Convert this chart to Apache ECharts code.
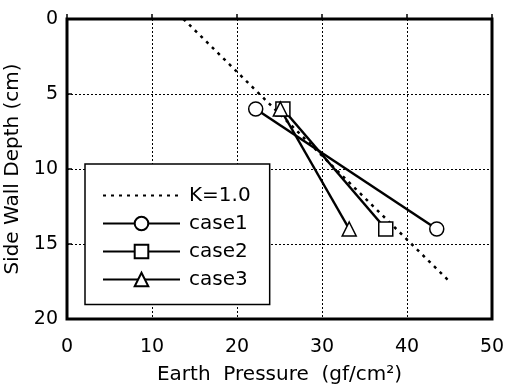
<!DOCTYPE html>
<html>
<head>
<meta charset="utf-8">
<script src="https://cdn.jsdelivr.net/npm/echarts@6/dist/echarts.min.js"></script>
<style>
  html, body { margin: 0; padding: 0; background: #fff; }
  #chart { width: 508px; height: 387px; }
</style>
</head>
<body>
<div id="chart"></div>
<script>
// reference line K=1.0 (pressure, depth)
const kLine = [[13.7, 0], [45, 17.5]];
// measured points, [pressure, depth]
const case1 = [[22.2, 6], [43.5, 14]];
const case2 = [[25.4, 6], [37.5, 14]];
const case3 = [[25.1, 6], [33.2, 14]];
const xTicks = [0, 10, 20, 30, 40, 50];
const yTicks = [0, 5, 10, 15, 20];

const font = "DejaVu Sans, Liberation Sans, Arial, sans-serif";
const myChart = echarts.init(document.getElementById("chart"));

const caseSeries = (name, data, symbol) => ({
  name,
  type: "line",
  data,
  symbol,
  symbolSize: 14,
  showSymbol: true,
  z: 3,
  lineStyle: { color: "#000", width: 2.5 },
  itemStyle: { color: "#fff", borderColor: "#000", borderWidth: 1.5 },
});

myChart.setOption({
  animation: false,
  backgroundColor: "#fff",
  textStyle: { fontFamily: font, color: "#000" },
  grid: {
    left: 67,
    right: 16,
    top: 19,
    bottom: 68,
    outerBoundsMode: "none",
    show: true,
    borderColor: "#000",
    borderWidth: 3,
    backgroundColor: "transparent",
  },
  legend: {
    orient: "vertical",
    left: 85,
    top: 164,
    backgroundColor: "#fff",
    borderColor: "#000",
    borderWidth: 1.5,
    borderRadius: 0,
    padding: [21.5, 19, 15, 17],
    itemGap: 8,
    itemWidth: 77,
    itemHeight: 17,
    textStyle: { fontSize: 20, fontFamily: font, color: "#000", padding: [0, 0, 0, 4] },
    data: [
      { name: "K=1.0", itemStyle: { color: "rgba(0,0,0,0)", borderColor: "rgba(0,0,0,0)", borderWidth: 0 } },
      "case1",
      "case2",
      "case3",
    ],
  },
  xAxis: {
    type: "value",
    min: xTicks[0],
    max: xTicks[xTicks.length - 1],
    interval: 10,
    name: "Earth  Pressure  (gf/cm²)",
    nameLocation: "middle",
    nameGap: 46,
    nameTextStyle: { fontSize: 20, fontFamily: font, color: "#000" },
    axisLine: { show: false },
    axisTick: { show: true, inside: true, length: 5, lineStyle: { color: "#000", width: 1.5 } },
    axisLabel: { fontSize: 19, color: "#000", margin: 19 },
    splitLine: { show: true, lineStyle: { color: "#000", type: [2, 2], width: 1 } },
  },
  yAxis: {
    type: "value",
    inverse: true,
    min: yTicks[0],
    max: yTicks[yTicks.length - 1],
    interval: 5,
    name: "Side Wall Depth (cm)",
    nameLocation: "middle",
    nameGap: 37,
    nameTextStyle: { fontSize: 20, fontFamily: font, color: "#000" },
    axisLine: { show: false },
    axisTick: { show: true, inside: true, length: 5, lineStyle: { color: "#000", width: 1.5 } },
    axisLabel: { fontSize: 19, color: "#000", margin: 9 },
    splitLine: { show: true, lineStyle: { color: "#000", type: [2, 2], width: 1 } },
  },
  series: [
    {
      name: "K=1.0",
      type: "line",
      data: kLine,
      symbol: "none",
      z: 2,
      lineStyle: { color: "#000", width: 2.5, type: [3, 5] },
      itemStyle: { color: "#000" },
    },
    caseSeries("case1", case1, "circle"),
    caseSeries("case2", case2, "rect"),
    caseSeries("case3", case3, "triangle"),
  ],
});
</script>
</body>
</html>
